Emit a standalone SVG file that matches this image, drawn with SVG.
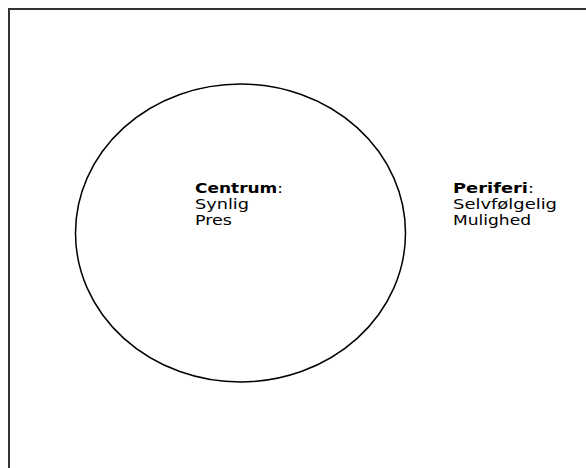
<svg xmlns="http://www.w3.org/2000/svg" width="586" height="468" viewBox="0 0 586 468">
<style>
text{font-family:"DejaVu Sans",Verdana,sans-serif;font-size:13.5px;fill:#000}
.b{font-weight:bold}
</style>
<rect width="586" height="468" fill="#fff"/>
<g id="frame"><path d="M9 468 V9 H586" fill="none" stroke="#333" stroke-width="2"/></g>
<g id="centrum">
<ellipse cx="240.5" cy="233" rx="165" ry="149" fill="none" stroke="#000" stroke-width="1.5"/>
<text x="195" y="193" textLength="88" lengthAdjust="spacingAndGlyphs"><tspan class="b">Centrum</tspan>:</text>
<text x="195" y="209" textLength="54" lengthAdjust="spacingAndGlyphs">Synlig</text>
<text x="195" y="225" textLength="37" lengthAdjust="spacingAndGlyphs">Pres</text>
</g>
<g id="periferi">
<text x="453" y="193" textLength="81" lengthAdjust="spacingAndGlyphs"><tspan class="b">Periferi</tspan>:</text>
<text x="453" y="209" textLength="104" lengthAdjust="spacingAndGlyphs">Selvfølgelig</text>
<text x="453" y="225" textLength="78" lengthAdjust="spacingAndGlyphs">Mulighed</text>
</g>
<g id="connectors"/>
</svg>
